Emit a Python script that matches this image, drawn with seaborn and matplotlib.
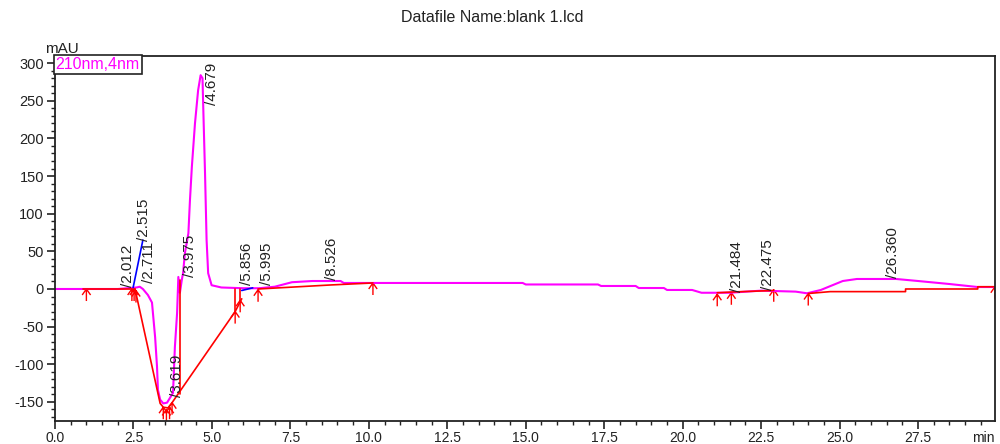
import matplotlib
matplotlib.use('Agg')
from matplotlib import pyplot as plt
from matplotlib.path import Path
from matplotlib.ticker import MultipleLocator, FormatStrFormatter
import pandas as pd
import seaborn as sns

# Chromatogram trace (210nm,4nm), time in min, signal in mAU
trace_time = [0.0, 1.0, 2.0, 2.6, 2.7, 2.8, 2.96, 3.09, 3.19, 3.25, 3.28, 3.35, 3.45, 3.57,
              3.76, 3.82, 3.89, 3.93, 3.98, 4.04, 4.08, 4.14, 4.25, 4.30, 4.36, 4.46, 4.56,
              4.64, 4.70, 4.72, 4.78, 4.83, 4.88, 4.99, 5.3, 6.0, 6.5, 7.0, 7.55, 8.2, 9.1,
              9.2, 10.2, 14.9, 15.0, 17.3, 17.4, 18.5, 18.6, 19.4, 19.5, 20.3, 20.6, 21.5,
              22.5, 23.6, 23.96, 24.4, 25.1, 25.55, 26.8, 27.5, 28.5, 29.4, 30.0]
trace_mau = [0, 0, 0, 2, 3, 0, -8, -18, -64, -103, -134, -147, -152, -151,
             -138, -77, -32, 16, -5, 12, 21, 48, 74, 118, 162, 220, 264,
             284, 280, 247, 154, 65, 21, 5, 2, 1, 1, 3, 9, 10.6, 10.6,
             8, 8, 8, 6, 6, 4, 4, 1.3, 1.3, -1.3, -1.3, -5, -5,
             -2.2, -3.5, -5.7, -1.3, 10.6, 13.3, 13.3, 10.6, 6.6, 2.6, 2.6]

# Integration baselines and drop lines (red)
base_seg = [0, 0,
            1, 1, 1, 1, 1, 1, 1,
            2, 2, 3, 3, 4, 4,
            5, 5, 5, 5,
            6, 6, 6,
            7, 7, 7, 7, 7, 7, 7]
base_time = [0.9, 2.55,
             2.55, 3.35, 3.45, 3.6, 3.73, 5.74, 5.95,
             3.98, 3.98, 5.74, 5.74, 5.9, 5.9,
             6.47, 7.6, 8.76, 10.13,
             21.1, 21.57, 22.9,
             24.0, 24.7, 27.1, 27.1, 29.4, 29.4, 30.0]
base_mau = [0, 0,
            0, -152, -157, -158, -151, -30, -13,
            12, -140, 0, -30, 0, -15,
            0, 2.6, 5.3, 8,
            -5, -4, -2,
            -6, -3.5, -3.5, 0, 0, 3, 3]

# Other baseline pieces (blue)
blue_seg = [0, 0, 1, 1]
blue_time = [2.49, 2.8, 5.95, 6.3]
blue_mau = [2, 65, -2, 1.5]

# Peak start/end markers
mark_time = [1.0, 2.45, 2.52, 2.58, 3.45, 3.55, 3.65, 3.73, 5.74, 5.9, 6.47,
             10.13, 21.1, 21.55, 22.9, 24.0, 29.95]
mark_mau = [0, 0, 0, -2, -157, -160, -157, -151, -30, -15, -1,
            8, -7, -5, -1, -6, 3]

# Peak labels: retention time text, anchor time and anchor signal
peak_names = ['2.012', '2.515', '2.711', '3.619', '3.975', '4.679', '5.856', '5.995',
              '8.526', '21.484', '22.475', '26.360']
peak_time = [2.33, 2.85, 2.99, 3.89, 4.30, 5.0, 6.12, 6.76, 8.83, 21.73, 22.72, 26.7]
peak_mau = [2.7, 64, 8, -143, 16, 244, 5, 5, 12, -4, -1, 15]

sns.set_style('ticks')
plt.rcParams['font.family'] = ['Liberation Sans', 'DejaVu Sans']
plt.rcParams['axes.unicode_minus'] = False

trace_df = pd.DataFrame({'time': trace_time, 'mau': trace_mau})
base_df = pd.DataFrame({'seg': base_seg, 'time': base_time, 'mau': base_mau})
blue_df = pd.DataFrame({'seg': blue_seg, 'time': blue_time, 'mau': blue_mau})
mark_df = pd.DataFrame({'time': mark_time, 'mau': mark_mau})

fig = plt.figure(figsize=(10, 4.44), dpi=100)
ax = fig.add_axes([0.055, 0.0507, 0.94, 0.8232])

sns.lineplot(data=trace_df, x='time', y='mau', color='#ff00ff', linewidth=1.5,
             sort=False, estimator=None, ax=ax)
sns.lineplot(data=base_df, x='time', y='mau', units='seg', color='#ff0000', linewidth=1.2,
             sort=False, estimator=None, ax=ax)
sns.lineplot(data=blue_df, x='time', y='mau', units='seg', color='#0000ff', linewidth=1.2,
             sort=False, estimator=None, ax=ax)

# arrow-like peak marker
arrow = Path([(0, 0), (0, -1), (-0.35, -0.5), (0, 0), (0.35, -0.5)],
             [Path.MOVETO, Path.LINETO, Path.MOVETO, Path.LINETO, Path.LINETO])
sc = sns.scatterplot(data=mark_df, x='time', y='mau', marker=arrow, s=300,
                     color='#ff0000', edgecolor='#ff0000', linewidth=1.0, ax=ax)
sc.collections[-1].set_facecolor('none')

for name, t, v in zip(peak_names, peak_time, peak_mau):
    ax.text(t, v, '/' + name, rotation=90, ha='center', va='bottom',
            fontsize=11, color='#222222', clip_on=True)

ax.set_xlim(0, 29.95)
ax.set_ylim(-176, 309.5)
ax.xaxis.set_major_locator(MultipleLocator(2.5))
ax.xaxis.set_minor_locator(MultipleLocator(0.5))
ax.yaxis.set_major_locator(MultipleLocator(50))
ax.yaxis.set_minor_locator(MultipleLocator(10))
ax.xaxis.set_major_formatter(FormatStrFormatter('%.1f'))
ax.tick_params(which='major', direction='out', length=6, width=1.2, labelsize=10.5,
               colors='#222222', pad=2)
ax.tick_params(axis='x', which='major', labelsize=10, pad=1)
ax.tick_params(which='minor', direction='out', length=3, width=1.0, colors='#222222')
for sp in ax.spines.values():
    sp.set_visible(True)
    sp.set_linewidth(1.3)
    sp.set_color('#222222')
ax.set_xlabel('')
ax.set_ylabel('')

ax.text(0.0005, 0.997, '210nm,4nm', transform=ax.transAxes, ha='left', va='top',
        fontsize=11.5, color='#ff00ff',
        bbox=dict(boxstyle='square,pad=0.12', fc='white', ec='#222222', lw=1.2))
ax.text(0.007, 1.0, 'mAU', transform=ax.transAxes, ha='center', va='bottom',
        fontsize=11, color='#222222')
ax.text(1.0, -0.025, 'min', transform=ax.transAxes, ha='right', va='top',
        fontsize=10, color='#222222')
fig.text(0.492, 0.96, 'Datafile Name:blank 1.lcd', ha='center', va='center',
         fontsize=11.5, color='#222222')

fig.savefig('out.png', dpi=100)
